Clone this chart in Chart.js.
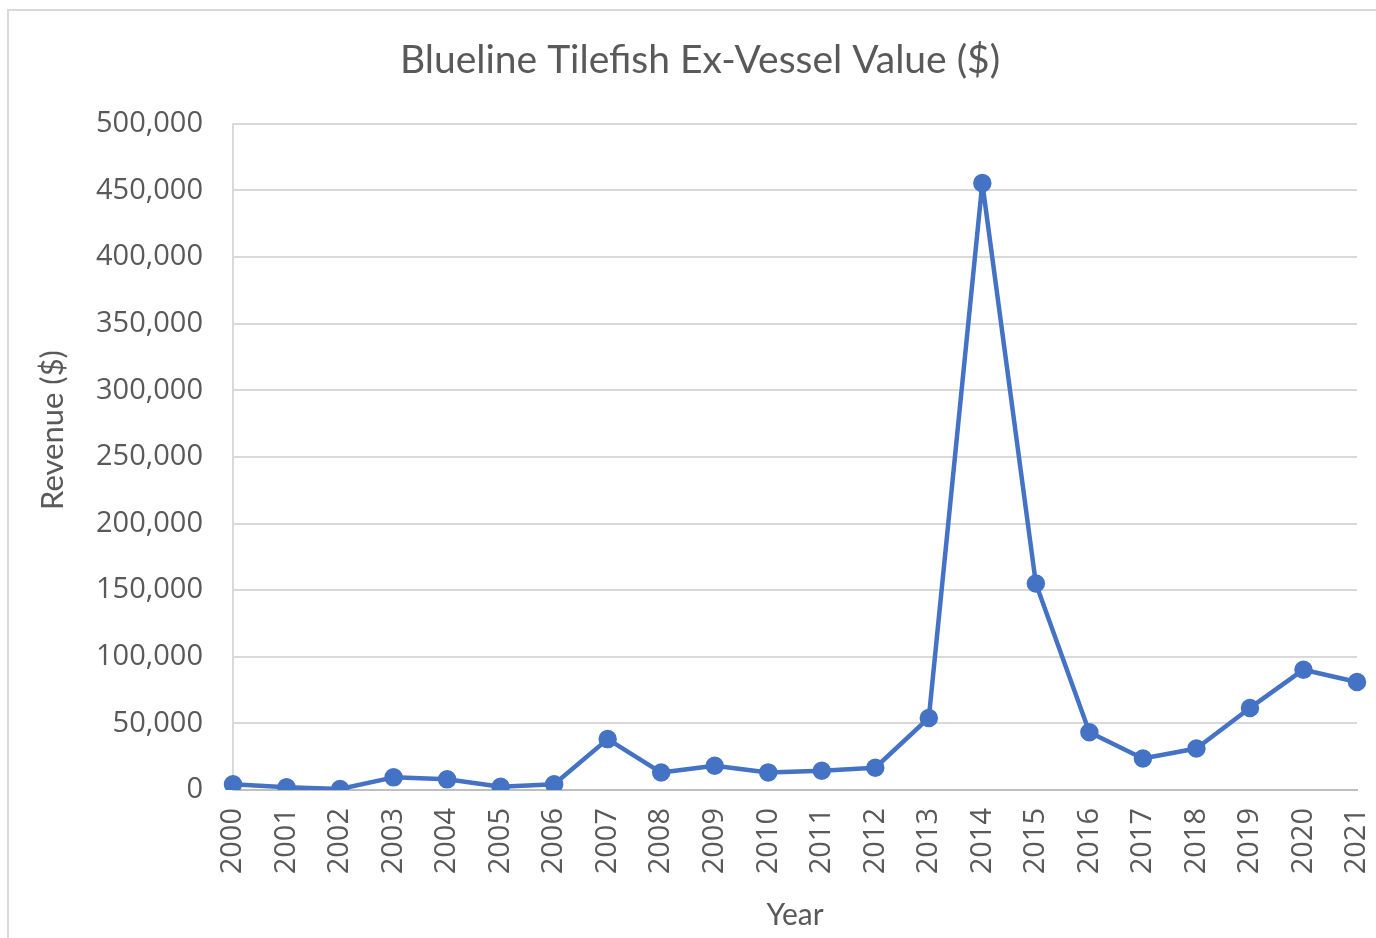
<!DOCTYPE html>
<html>
<head>
<meta charset="utf-8">
<script src="https://cdn.jsdelivr.net/npm/chart.js@4"></script>
<style>
	html, body { margin: 0; padding: 0; background: #fff; overflow: hidden; }
	.frame {
		position: absolute; left: 7px; top: 9px; width: 3000px; height: 3000px;
		border-left: 2px solid #d9d9d9; border-top: 2px solid #d9d9d9;
	}
	.wrap { position: absolute; left: 0; top: 0; width: 1376px; height: 938px; }
</style>
</head>
<body>
<div class="frame"></div>
<div class="wrap"><canvas class="line-chart"></canvas></div>
<script>
const years = [
	"2000", "2001", "2002", "2003", "2004", "2005", "2006", "2007", "2008", "2009", "2010",
	"2011", "2012", "2013", "2014", "2015", "2016", "2017", "2018", "2019", "2020", "2021",
];

const revenue = [
	4300, 2000, 750, 9500, 8000, 2500, 4300, 38200, 13100, 18200, 13200,
	14400, 16700, 54100, 455500, 155000, 43400, 23700, 31200, 61600, 90300, 81100,
];

const yTicks = [0, 50000, 100000, 150000, 200000, 250000, 300000, 350000, 400000, 450000, 500000];

const lineColor = "#4472c4";
const textColor = "#595959";
const gridColor = "#d9d9d9";

// y axis title sits a bit above the plot centre in the original, so draw it by hand
const yTitlePlugin = {
	id: "yTitle",
	afterDraw: (chart) => {
		const ctx = chart.ctx;
		ctx.save();
		ctx.translate(53, 430);
		ctx.rotate(-Math.PI / 2);
		ctx.fillStyle = textColor;
		ctx.font = "31px Lato";
		ctx.textAlign = "center";
		ctx.textBaseline = "middle";
		ctx.fillText("Revenue ($)", 0, 0);
		ctx.restore();
	},
};

const renderChart = (labelsData, valuesData) => {
	const lineChart = document.querySelector(".line-chart");

	new Chart(lineChart, {
		type: "line",
		data: {
			labels: labelsData,
			datasets: [
				{
					label: "Revenue ($)",
					data: valuesData,
					borderColor: lineColor,
					backgroundColor: lineColor,
					borderWidth: 4.5,
					borderJoinStyle: "round",
					pointRadius: 7,
					pointHoverRadius: 7,
					tension: 0,
				},
			],
		},
		plugins: [yTitlePlugin],
		options: {
			responsive: true,
			maintainAspectRatio: false,
			animation: false,
			layout: { padding: { top: 37, left: 43, right: 19, bottom: 5 } },
			plugins: {
				legend: { display: false },
				tooltip: { enabled: false },
				title: {
					display: true,
					text: "Blueline Tilefish Ex-Vessel Value ($)",
					color: textColor,
					font: { family: "Lato", size: 39, weight: "normal" },
					padding: { top: 0, bottom: 40 },
				},
			},
			scales: {
				x: {
					offset: false,
					afterFit: (scale) => {
						scale.paddingLeft = 0;
						scale.paddingRight = 0;
						scale.height = 143;
					},
					grid: { display: false, drawTicks: false },
					border: { display: true, color: "#bfbfbf", width: 2 },
					ticks: {
						color: textColor,
						font: { family: "Open Sans", size: 29 },
						minRotation: 90,
						maxRotation: 90,
						padding: 18,
						autoSkip: false,
					},
					title: {
						display: true,
						text: "Year",
						color: textColor,
						font: { family: "Lato", size: 30 },
						padding: { top: 22, bottom: 0 },
					},
				},
				y: {
					min: 0,
					max: 500000,
					afterBuildTicks: (scale) => {
						scale.ticks = yTicks.map((v) => ({ value: v }));
					},
					afterFit: (scale) => {
						scale.width = 190;
					},
					grid: { color: gridColor, lineWidth: 2, drawTicks: false },
					border: { display: true, color: gridColor, width: 2 },
					ticks: {
						color: textColor,
						font: { family: "Open Sans", size: 29 },
						padding: 30,
						callback: (v) => v.toLocaleString("en-US"),
					},
				},
			},
		},
	});
};

renderChart(years, revenue);
</script>
</body>
</html>
